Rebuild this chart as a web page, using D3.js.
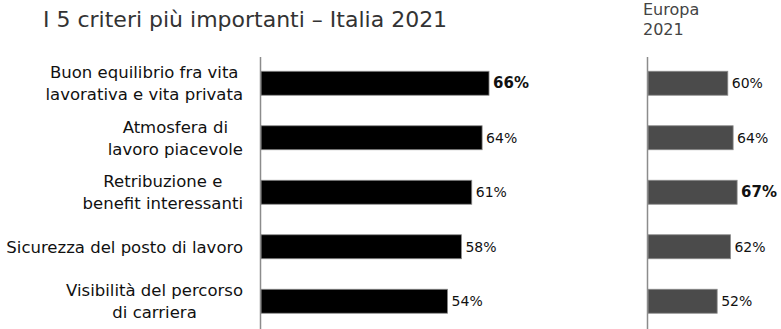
<!DOCTYPE html>
<html>
<head>
<meta charset="utf-8">
<script src="https://cdn.jsdelivr.net/npm/d3@7"></script>
<style>
  body { margin: 0; background: #fff; }
  text { font-family: "DejaVu Sans", Verdana, sans-serif; }
</style>
</head>
<body>
<div id="chart"></div>
<script>
// chart data
var categories = [
  "Buon equilibrio fra vita\nlavorativa e vita privata",
  "Atmosfera di\nlavoro piacevole",
  "Retribuzione e\nbenefit interessanti",
  "Sicurezza del posto di lavoro",
  "Visibilità del percorso\ndi carriera"
];
var italiaValues = [66, 64, 61, 58, 54];
var europaValues = [60, 64, 67, 62, 52];
var titleText = "I 5 criteri più importanti – Italia 2021";
var europaTitle = ["Europa", "2021"];

var width = 781;
var height = 329;

var svg = d3
  .select("#chart")
  .append("svg")
  .attr("width", width)
  .attr("height", height);

// shared vertical scale for both panels
var yScale = d3
  .scaleBand()
  .domain(categories)
  .range([56, 328.5])
  .paddingInner(0.56)
  .paddingOuter(0.28);

// Italia panel scale and Europa panel scale
var xItalia = d3.scaleLinear().domain([0, 100]).range([261, 606.5]);
var xEuropa = d3.scaleLinear().domain([0, 100]).range([648, 781]);

//Title
svg
  .append("text")
  .attr("x", 43)
  .attr("y", 27)
  .attr("font-size", 22)
  .attr("fill", "#333")
  .text(titleText);

//Europa header
svg
  .append("g")
  .selectAll("text")
  .data(europaTitle)
  .enter()
  .append("text")
  .attr("x", 643)
  .attr("y", function(d, i) { return 15 + i * 20; })
  .attr("font-size", 16)
  .attr("fill", "#444")
  .text(function(d) { return d; });

//Category labels, each block right aligned, lines centered inside it
var labelRight = 243;
var lineHeight = 22;
var labels = svg.append("g").attr("class", "labels");

categories.forEach(function(cat) {
  var lines = cat.split("\n");
  var cy = yScale(cat) + yScale.bandwidth() / 2;
  var t = labels
    .append("text")
    .attr("font-size", 16.5)
    .attr("fill", "#111")
    .attr("text-anchor", "middle");
  lines.forEach(function(line, i) {
    t.append("tspan")
      .attr("y", cy + 6 + (i - (lines.length - 1) / 2) * lineHeight)
      .text(line);
  });
  var maxW = 0;
  t.selectAll("tspan").each(function() {
    maxW = Math.max(maxW, this.getComputedTextLength());
  });
  t.selectAll("tspan").attr("x", labelRight - maxW / 2);
});

/**
* Draw one panel of bars with axis line and value labels
*/
function drawPanel(values, xScale, color) {
  var g = svg.append("g");
  var maxVal = d3.max(values);

  g.selectAll("rect")
    .data(values)
    .enter()
    .append("rect")
    .attr("x", xScale(0))
    .attr("y", function(d, i) { return yScale(categories[i]); })
    .attr("width", function(d) { return xScale(d) - xScale(0); })
    .attr("height", yScale.bandwidth())
    .attr("fill", color)
    .attr("stroke", "#8a8a8a")
    .attr("stroke-width", 0.8);

  g.selectAll("text")
    .data(values)
    .enter()
    .append("text")
    .attr("x", function(d) { return xScale(d) + 4; })
    .attr("y", function(d, i) {
      return yScale(categories[i]) + yScale.bandwidth() / 2 + 5;
    })
    .attr("font-size", function(d) { return d === maxVal ? 15 : 14; })
    .attr("font-weight", function(d) { return d === maxVal ? "bold" : "normal"; })
    .attr("fill", "#111")
    .text(function(d) { return d + "%"; });

  g.append("line")
    .attr("x1", xScale(0) - 0.5)
    .attr("x2", xScale(0) - 0.5)
    .attr("y1", 57)
    .attr("y2", height)
    .attr("stroke", "#8c8c8c")
    .attr("stroke-width", 1.5);
}

drawPanel(italiaValues, xItalia, "#000");
drawPanel(europaValues, xEuropa, "#4b4b4b");
</script>
</body>
</html>
